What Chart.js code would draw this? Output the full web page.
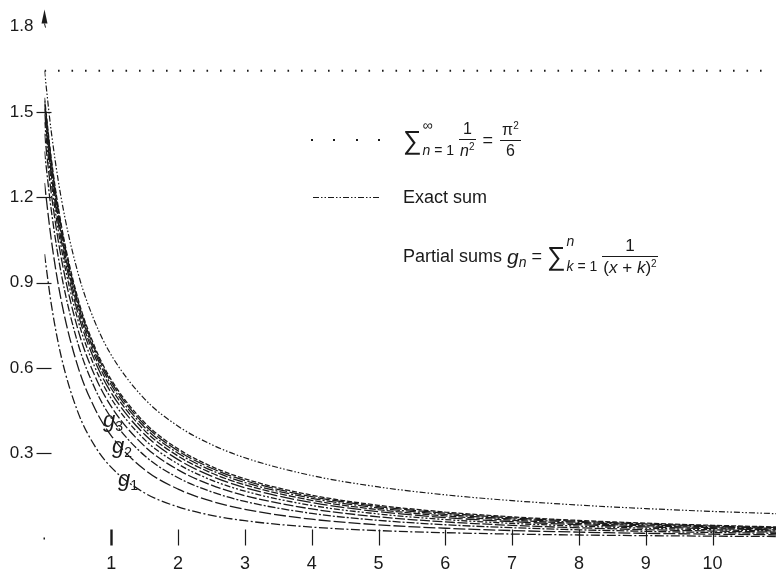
<!DOCTYPE html>
<html>
<head>
<meta charset="utf-8">
<script src="https://cdn.jsdelivr.net/npm/chart.js@4"></script>
<style>
  html, body { margin:0; padding:0; background:#fff; }
  #wrap { position:relative; width:777px; height:577px; font-family:"Liberation Sans", Arial, sans-serif; color:#1a1a1a; }
  #chart { position:absolute; left:0; top:0; }
  .row { position:absolute; display:flex; align-items:center; white-space:nowrap; font-size:18px; line-height:1; }
  .big { font-size:26px; }
  .lim { display:inline-flex; flex-direction:column; justify-content:space-between; height:34px; font-size:14px; margin:0 3px 0 1px; }
  .lim .up { margin-top:-5px; }
  .frac { display:inline-flex; flex-direction:column; align-items:center; font-size:16px; margin:0 3px; }
  .frac.wide { font-size:17px; }
  .frac .num { border-bottom:1px solid #1a1a1a; padding:0 1px 2px; width:100%; text-align:center; }
  .frac .den { padding-top:2px; }
  .frac sup, .row sup { font-size:10px; vertical-align:6px; }
  .glab { position:absolute; font-size:22px; font-style:italic; line-height:1; }
  .glab sub { font-size:14px; font-style:normal; vertical-align:-4px; }
</style>
</head>
<body>
<div id="wrap">
  <canvas id="chart" width="777" height="577"></canvas>

  <div class="row" style="left:403px; top:120px; height:40px;">
    <span class="big">∑</span>
    <span class="lim"><span class="up">∞</span><span><i>n</i> = 1</span></span>
    <span class="frac"><span class="num">1</span><span class="den"><i>n</i><sup>2</sup></span></span>
    <span>&nbsp;=&nbsp;</span>
    <span class="frac"><span class="num">π<sup>2</sup></span><span class="den">6</span></span>
  </div>

  <div class="row" style="left:403px; top:188px;">Exact sum</div>

  <div class="row" style="left:403px; top:236px; height:40px;">
    <span>Partial sums&nbsp;</span>
    <span style="font-size:21px;"><i>g</i></span><span style="font-size:14px; margin-top:12px;"><i>n</i></span>
    <span>&nbsp;=&nbsp;</span>
    <span class="big">∑</span>
    <span class="lim"><span class="up"><i>n</i></span><span><i>k</i> = 1</span></span>
    <span class="frac wide"><span class="num">1</span><span class="den">(<i>x</i>&nbsp;+&nbsp;<i>k</i>)<sup>2</sup></span></span>
  </div>

  <div class="glab" style="left:103px; top:409px;">g<sub>3</sub></div>
  <div class="glab" style="left:112px; top:435px;">g<sub>2</sub></div>
  <div class="glab" style="left:118px; top:468px;">g<sub>1</sub></div>
</div>

<script>
// ---------- data ----------
const xVals = [0, 0.1, 0.25, 0.5, 0.75, 1, 1.5, 2, 2.5, 3, 4, 5, 6, 7, 8, 9, 10, 11];

const g1  = [1.0, 0.8265, 0.64, 0.4444, 0.3265, 0.25, 0.16, 0.1111, 0.0816, 0.0625, 0.04, 0.0278, 0.0204, 0.0156, 0.0123, 0.01, 0.0083, 0.0069];
const g2  = [1.25, 1.0532, 0.8375, 0.6044, 0.4588, 0.3611, 0.2416, 0.1736, 0.131, 0.1025, 0.0678, 0.0482, 0.036, 0.028, 0.0224, 0.0183, 0.0152, 0.0129];
const g3  = [1.3611, 1.1573, 0.9322, 0.6861, 0.5299, 0.4236, 0.291, 0.2136, 0.1641, 0.1303, 0.0882, 0.0638, 0.0484, 0.038, 0.0306, 0.0252, 0.0211, 0.018];
const g4  = [1.4236, 1.2168, 0.9876, 0.7355, 0.5742, 0.4636, 0.3241, 0.2414, 0.1877, 0.1507, 0.1038, 0.0762, 0.0584, 0.0462, 0.0376, 0.0311, 0.0262, 0.0224];
const g5  = [1.4636, 1.2552, 1.0238, 0.7685, 0.6044, 0.4914, 0.3477, 0.2618, 0.2055, 0.1663, 0.1162, 0.0862, 0.0666, 0.0532, 0.0435, 0.0362, 0.0307, 0.0263];
const g6  = [1.4914, 1.2821, 1.0494, 0.7922, 0.6264, 0.5118, 0.3655, 0.2774, 0.2194, 0.1787, 0.1262, 0.0944, 0.0736, 0.0591, 0.0486, 0.0407, 0.0346, 0.0298];
const g7  = [1.5118, 1.3019, 1.0685, 0.81, 0.643, 0.5274, 0.3794, 0.2898, 0.2304, 0.1887, 0.1344, 0.1014, 0.0795, 0.0642, 0.053, 0.0446, 0.038, 0.0329];
const g8  = [1.5274, 1.3172, 1.0832, 0.8238, 0.6561, 0.5398, 0.3904, 0.2998, 0.2395, 0.1969, 0.1414, 0.1073, 0.0846, 0.0686, 0.0569, 0.048, 0.0411, 0.0356];
const g9  = [1.5398, 1.3292, 1.0948, 0.8349, 0.6666, 0.5498, 0.3995, 0.308, 0.2471, 0.2039, 0.1473, 0.1124, 0.0891, 0.0726, 0.0604, 0.0511, 0.0439, 0.0381];
const g10 = [1.5498, 1.339, 1.1044, 0.844, 0.6753, 0.558, 0.4071, 0.315, 0.2535, 0.2098, 0.1524, 0.1168, 0.093, 0.076, 0.0635, 0.0539, 0.0464, 0.0404];
const exactSum = [1.6449, 1.4333, 1.1973, 0.9348, 0.7641, 0.6449, 0.4904, 0.3949, 0.3304, 0.2838, 0.2213, 0.1813, 0.1535, 0.1331, 0.1175, 0.1052, 0.0952, 0.0869];

const zetaTwo = 1.6449;   // pi^2 / 6

const xTickVals = [1, 2, 3, 4, 5, 6, 7, 8, 9, 10];
const xTickLabels = ['1', '2', '3', '4', '5', '6', '7', '8', '9', '10'];
const yTickVals = [0.3, 0.6, 0.9, 1.2, 1.5, 1.8];
const yTickLabels = ['0.3', '0.6', '0.9', '1.2', '1.5', '1.8'];

// ---------- helpers ----------
const INK = '#1a1a1a';
const FONT = '"Liberation Sans", Arial, sans-serif';

function pts(arr){
  return xVals.map((x, i) => ({ x: x, y: arr[i] }));
}

function curve(arr, dash, w){
  return {
    data: pts(arr),
    borderColor: INK,
    borderWidth: w || 1.2,
    borderDash: dash,
    pointRadius: 0,
    cubicInterpolationMode: 'monotone',
    fill: false
  };
}

const partials = [g1, g2, g3, g4, g5, g6, g7, g8, g9, g10];
const dashes = [
  [9, 2.5, 2, 2.5], [12, 3], [8, 2, 2, 2], [10, 2.5], [6, 2, 2, 2, 2, 2],
  [14, 3], [7, 2], [10, 2, 2, 2], [12, 2.5], [5, 2]
];
const exactDash = [6, 2, 1.5, 2, 1.5, 2];

const datasets = partials.map((g, i) => curve(g, dashes[i], 1.3));
datasets.push(curve(exactSum, exactDash, 1.2));
datasets.push({
  data: [{ x: 0, y: zetaTwo }, { x: 10.8, y: zetaTwo }],
  borderColor: INK,
  borderWidth: 2,
  borderDash: [1.6, 11.9],
  pointRadius: 0
});

// tick marks, arrow head and legend samples
const extras = {
  id: 'extras',
  afterDraw(chart){
    const ctx = chart.ctx;
    const xs = chart.scales.x, ys = chart.scales.y;
    const ax = xs.getPixelForValue(0);
    const ay = ys.getPixelForValue(0);
    ctx.save();
    ctx.strokeStyle = INK;
    ctx.fillStyle = INK;

    // y ticks
    ctx.lineWidth = 1.2;
    yTickVals.forEach(v => {
      if (v >= 1.8) return;
      const py = Math.round(ys.getPixelForValue(v)) + 0.5;
      ctx.beginPath();
      ctx.moveTo(ax - 8, py);
      ctx.lineTo(ax + 7, py);
      ctx.stroke();
    });

    // x ticks
    xTickVals.forEach(v => {
      const px = Math.round(xs.getPixelForValue(v)) + 0.5;
      ctx.lineWidth = v === 1 ? 2.4 : 1.2;
      ctx.beginPath();
      ctx.moveTo(px, ay - 9);
      ctx.lineTo(px, ay + 7);
      ctx.stroke();
    });

    // little mark at the origin
    ctx.fillRect(ax - 1, ay - 1, 1.5, 2);

    // arrow on the y axis
    const ty = ys.getPixelForValue(1.8);
    ctx.beginPath();
    ctx.moveTo(ax, ty - 17);
    ctx.lineTo(ax + 3, ty - 3);
    ctx.lineTo(ax - 3, ty - 3);
    ctx.closePath();
    ctx.fill();
    ctx.lineWidth = 1;
    ctx.beginPath();
    ctx.moveTo(ax, ty - 3);
    ctx.lineTo(ax + 1, ty + 1);
    ctx.stroke();

    // legend: dotted sample
    [312, 334, 357, 379].forEach(px => {
      ctx.fillRect(px - 1, 139, 2, 2);
    });

    // legend: exact-sum sample
    ctx.lineWidth = 1.1;
    ctx.setLineDash(exactDash);
    ctx.beginPath();
    ctx.moveTo(313, 197.5);
    ctx.lineTo(381, 197.5);
    ctx.stroke();
    ctx.restore();
  }
};

new Chart(document.getElementById('chart'), {
  type: 'line',
  data: { datasets: datasets },
  options: {
    responsive: false,
    animation: false,
    devicePixelRatio: 1,
    layout: { padding: { top: 8, right: 1, left: 0, bottom: 0 } },
    plugins: { legend: { display: false }, tooltip: { enabled: false } },
    scales: {
      x: {
        type: 'linear',
        min: 0,
        max: 10.95,
        grid: { display: false, drawTicks: false },
        border: { display: false },
        afterBuildTicks: s => { s.ticks = xTickVals.map(v => ({ value: v })); },
        afterFit: s => { s.height = 38.5; },
        ticks: {
          autoSkip: false,
          maxRotation: 0,
          padding: 15,
          color: INK,
          font: { family: FONT, size: 18 },
          callback: (v, i) => xTickLabels[i]
        }
      },
      y: {
        min: 0,
        max: 1.819,
        grid: { display: false, drawTicks: false },
        border: { display: false },
        afterBuildTicks: s => { s.ticks = yTickVals.map(v => ({ value: v })); },
        afterFit: s => { s.width = 44.5; },
        ticks: {
          padding: 11,
          color: INK,
          font: { family: FONT, size: 17 },
          callback: (v, i) => yTickLabels[i]
        }
      }
    }
  },
  plugins: [extras]
});
</script>
</body>
</html>
